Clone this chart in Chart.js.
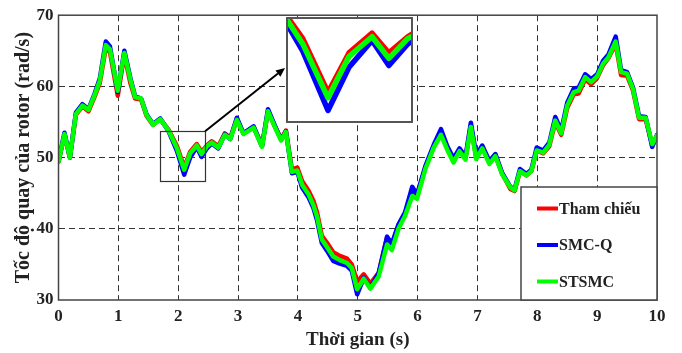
<!DOCTYPE html>
<html>
<head>
<meta charset="utf-8">
<script src="https://cdn.jsdelivr.net/npm/chart.js@4.4.1/dist/chart.umd.min.js"></script>
<style>
  html, body { margin: 0; padding: 0; background: #fff; }
  #wrap { position: relative; width: 682px; height: 353px; }
  #main { position: absolute; left: 0; top: 0; }
  #inset { position: absolute; left: 286px; top: 17px; }
</style>
</head>
<body>
<div id="wrap">
  <canvas id="main" width="682" height="353"></canvas>
  <canvas id="inset" width="127" height="106"></canvas>
</div>
<script>
// ---------------- DATA ----------------
const seriesNames = ["Tham chiếu", "SMC-Q", "STSMC"];
const seriesColors = ["#ff0000", "#0000ff", "#00ff00"];
const xTickValues = [0,1,2,3,4,5,6,7,8,9,10];
const yTickValues = [30,40,50,60,70];

const times = [
  0.00,0.10,0.19,0.29,0.40,0.50,0.60,0.69,0.79,0.86,
  0.99,1.10,1.20,1.28,1.38,1.47,1.58,1.70,1.84,1.98,
  2.10,2.20,2.31,2.39,2.48,2.56,2.67,2.78,2.87,2.98,
  3.09,3.26,3.40,3.50,3.62,3.72,3.80,3.90,3.99,4.07,
  4.18,4.26,4.32,4.40,4.48,4.59,4.70,4.82,4.90,4.99,
  5.10,5.21,5.35,5.49,5.57,5.68,5.79,5.91,5.99,6.13,
  6.27,6.39,6.50,6.60,6.70,6.80,6.89,6.98,7.08,7.20,
  7.30,7.41,7.55,7.62,7.71,7.82,7.90,7.99,8.10,8.20,
  8.30,8.40,8.50,8.61,8.69,8.80,8.90,9.00,9.10,9.19,
  9.31,9.40,9.50,9.60,9.70,9.81,9.92,10.00
];

const thamChieu = [
  49.4,53.2,50.0,56.0,57.2,56.5,58.5,60.5,65.4,64.8,
  58.7,64.5,60.5,58.3,58.2,55.9,54.6,55.4,53.9,51.6,
  48.6,50.8,51.9,50.8,51.7,52.3,51.6,53.4,52.8,55.4,
  53.4,54.3,51.6,56.5,54.3,52.6,53.8,48.3,48.6,46.7,
  45.3,43.9,42.3,39.0,38.1,36.7,36.2,35.8,35.0,32.6,
  33.6,32.3,33.8,38.8,37.7,40.5,42.1,45.5,44.6,48.6,
  51.6,53.7,51.3,49.6,51.1,49.9,54.5,50.0,51.5,49.3,
  50.3,47.8,45.6,45.3,48.1,47.5,48.1,51.0,50.6,51.6,
  55.0,53.2,57.0,58.9,59.0,61.0,60.3,61.2,63.0,64.0,
  66.0,61.6,61.5,59.4,55.4,55.4,51.8,53.0
];

const smcQ = [
  49.5,53.5,50.0,56.3,57.5,56.8,58.9,61.1,66.3,65.6,
  59.2,65.0,61.2,58.6,58.3,56.1,54.7,55.5,53.7,50.9,
  47.6,50.0,51.5,50.1,51.3,52.0,51.3,53.3,52.6,55.6,
  53.4,54.4,51.6,56.8,54.4,52.5,53.7,47.8,48.0,45.8,
  44.4,42.9,41.2,38.0,37.0,35.5,35.1,34.8,34.1,30.8,
  33.1,31.7,33.8,38.9,37.9,40.6,42.3,45.9,44.8,48.8,
  51.8,54.0,51.5,49.9,51.3,50.1,54.9,50.3,51.7,49.5,
  50.5,47.9,45.9,45.5,48.4,47.7,48.3,51.4,51.0,52.1,
  55.7,53.8,57.7,59.7,59.8,61.7,61.0,61.7,63.6,64.5,
  67.0,62.3,62.0,59.8,55.8,55.7,51.5,53.2
];

const stsmc = [
  49.4,53.3,50.0,56.1,57.3,56.7,58.7,60.8,65.8,65.2,
  59.4,64.7,61.0,58.5,58.3,56.0,54.6,55.4,53.8,51.3,
  48.3,50.6,51.7,50.5,51.6,52.1,51.4,53.2,52.6,55.3,
  53.3,54.2,51.5,56.5,54.2,52.4,53.6,48.0,48.2,46.2,
  44.8,43.3,41.7,38.5,37.5,36.1,35.6,35.2,34.5,31.5,
  33.0,31.6,33.3,37.8,37.0,40.0,41.8,44.6,44.2,48.4,
  51.4,53.2,51.0,49.3,50.9,49.7,54.3,49.8,51.3,49.1,
  50.2,47.7,45.8,45.4,48.1,47.5,48.1,51.0,50.7,51.8,
  55.2,53.4,57.3,59.2,59.4,61.3,60.6,61.4,63.2,64.1,
  66.3,62.0,61.8,59.6,55.6,55.6,51.9,53.1
];

// zoom window shown in the inset (data units)
const zoomBoxX = [1.70, 2.45];
const zoomBoxY = [46.7, 53.7];
const insetX = [1.90, 2.505];
const insetY = [46.9, 52.8];
// ---------------------------------------

const FONT = "'Liberation Serif','Times New Roman',serif";
Chart.defaults.font.family = FONT;
Chart.defaults.font.weight = 'bold';
Chart.defaults.color = '#222';

const seriesValues = [thamChieu, smcQ, stsmc];
function pts(arr) { return times.map((t, i) => ({ x: t, y: arr[i] })); }
function makeDatasets(width) {
  return seriesNames.map((name, k) => ({
    label: name,
    data: pts(seriesValues[k]),
    borderColor: seriesColors[k],
    backgroundColor: seriesColors[k],
    borderWidth: width,
    pointRadius: 0,
    tension: 0,
    fill: false,
    order: 2 - k,
    borderJoinStyle: 'round',
    borderCapStyle: 'round'
  }));
}

const framePlugin = {
  id: 'frame',
  afterDraw(chart) {
    const { ctx, chartArea: a, scales: { x, y } } = chart;
    ctx.save();
    // zoom rectangle
    const x0 = x.getPixelForValue(zoomBoxX[0]), x1 = x.getPixelForValue(zoomBoxX[1]);
    const y0 = y.getPixelForValue(zoomBoxY[1]), y1 = y.getPixelForValue(zoomBoxY[0]);
    ctx.strokeStyle = '#333';
    ctx.lineWidth = 1.2;
    ctx.strokeRect(Math.round(x0) + 0.5, Math.round(y0) + 0.5, Math.round(x1 - x0), Math.round(y1 - y0));
    // arrow to inset
    const tipX = 285, tipY = 68;
    const sx = x1, sy = y0;
    const ang = Math.atan2(tipY - sy, tipX - sx);
    const hl = 9, hw = 4;
    const bx = tipX - hl * Math.cos(ang), by = tipY - hl * Math.sin(ang);
    ctx.strokeStyle = '#000';
    ctx.lineWidth = 2;
    ctx.beginPath(); ctx.moveTo(sx, sy); ctx.lineTo(bx, by); ctx.stroke();
    ctx.fillStyle = '#000';
    ctx.beginPath();
    ctx.moveTo(tipX, tipY);
    ctx.lineTo(bx + hw * Math.sin(ang), by - hw * Math.cos(ang));
    ctx.lineTo(bx - hw * Math.sin(ang), by + hw * Math.cos(ang));
    ctx.closePath(); ctx.fill();
    // plot frame
    ctx.strokeStyle = '#444';
    ctx.lineWidth = 1.5;
    ctx.strokeRect(a.left, a.top, a.right - a.left, a.bottom - a.top);
    // legend
    const lx0 = 521, ly0 = 187, lx1 = a.right, ly1 = a.bottom;
    ctx.fillStyle = '#fff';
    ctx.fillRect(lx0, ly0, lx1 - lx0, ly1 - ly0);
    ctx.strokeStyle = '#444';
    ctx.lineWidth = 1.5;
    ctx.strokeRect(lx0, ly0, lx1 - lx0, ly1 - ly0);
    const rows = [208.5, 245, 281.5];
    ctx.font = "bold 16px " + FONT;
    ctx.textBaseline = 'middle';
    ctx.textAlign = 'left';
    seriesNames.forEach((name, k) => {
      ctx.strokeStyle = seriesColors[k];
      ctx.lineWidth = 4;
      ctx.beginPath(); ctx.moveTo(537, rows[k]); ctx.lineTo(558, rows[k]); ctx.stroke();
      ctx.fillStyle = '#222';
      ctx.fillText(name, 559, rows[k] + 1);
    });
    ctx.restore();
  }
};

function gridColor(min, max) {
  return (c) => (c.tick && (c.tick.value === min || c.tick.value === max)) ? 'rgba(0,0,0,0)' : '#333';
}

new Chart(document.getElementById('main'), {
  type: 'line',
  data: { datasets: makeDatasets(4.5) },
  options: {
    responsive: false,
    animation: false,
    devicePixelRatio: 1,
    layout: { padding: { top: 15, right: 25, left: 0, bottom: 0 } },
    plugins: { legend: { display: false }, tooltip: { enabled: false } },
    scales: {
      x: {
        type: 'linear', min: 0, max: 10,
        afterBuildTicks(s) { s.ticks = xTickValues.map(v => ({ value: v })); },
        afterFit(s) { s.height = 53; },
        ticks: { padding: 6, font: { size: 17, weight: 'bold' }, color: '#222', maxRotation: 0 },
        grid: { color: gridColor(0, 10), lineWidth: 1, drawTicks: false },
        border: { display: false, dash: [6, 4] },
        title: { display: true, text: 'Thời gian (s)', font: { size: 19, weight: 'bold' }, color: '#222', padding: { top: 0, bottom: 2 } }
      },
      y: {
        type: 'linear', min: 30, max: 70,
        afterBuildTicks(s) { s.ticks = yTickValues.map(v => ({ value: v })); },
        afterFit(s) { s.width = 58.5; },
        ticks: { padding: 5, font: { size: 17, weight: 'bold' }, color: '#222' },
        grid: { color: gridColor(30, 70), lineWidth: 1, drawTicks: false },
        border: { display: false, dash: [6, 4] },
        title: { display: true, text: 'Tốc độ quay của rotor (rad/s)', font: { size: 20, weight: 'bold' }, color: '#222', padding: { top: 12, bottom: 0 } }
      }
    }
  },
  plugins: [framePlugin]
});

const insetPlugin = {
  id: 'insetFrame',
  beforeDraw(chart) {
    const { ctx, width, height } = chart;
    ctx.save(); ctx.fillStyle = '#fff'; ctx.fillRect(0, 0, width, height); ctx.restore();
  },
  afterDraw(chart) {
    const { ctx, width, height } = chart;
    ctx.save(); ctx.strokeStyle = '#555'; ctx.lineWidth = 2;
    ctx.strokeRect(1, 1, width - 2, height - 2); ctx.restore();
  }
};

new Chart(document.getElementById('inset'), {
  type: 'line',
  data: { datasets: makeDatasets(5.5) },
  options: {
    responsive: false,
    animation: false,
    devicePixelRatio: 1,
    layout: { padding: 0 },
    plugins: { legend: { display: false }, tooltip: { enabled: false } },
    scales: {
      x: { type: 'linear', min: insetX[0], max: insetX[1], display: false },
      y: { type: 'linear', min: insetY[0], max: insetY[1], display: false }
    }
  },
  plugins: [insetPlugin]
});
</script>
</body>
</html>
